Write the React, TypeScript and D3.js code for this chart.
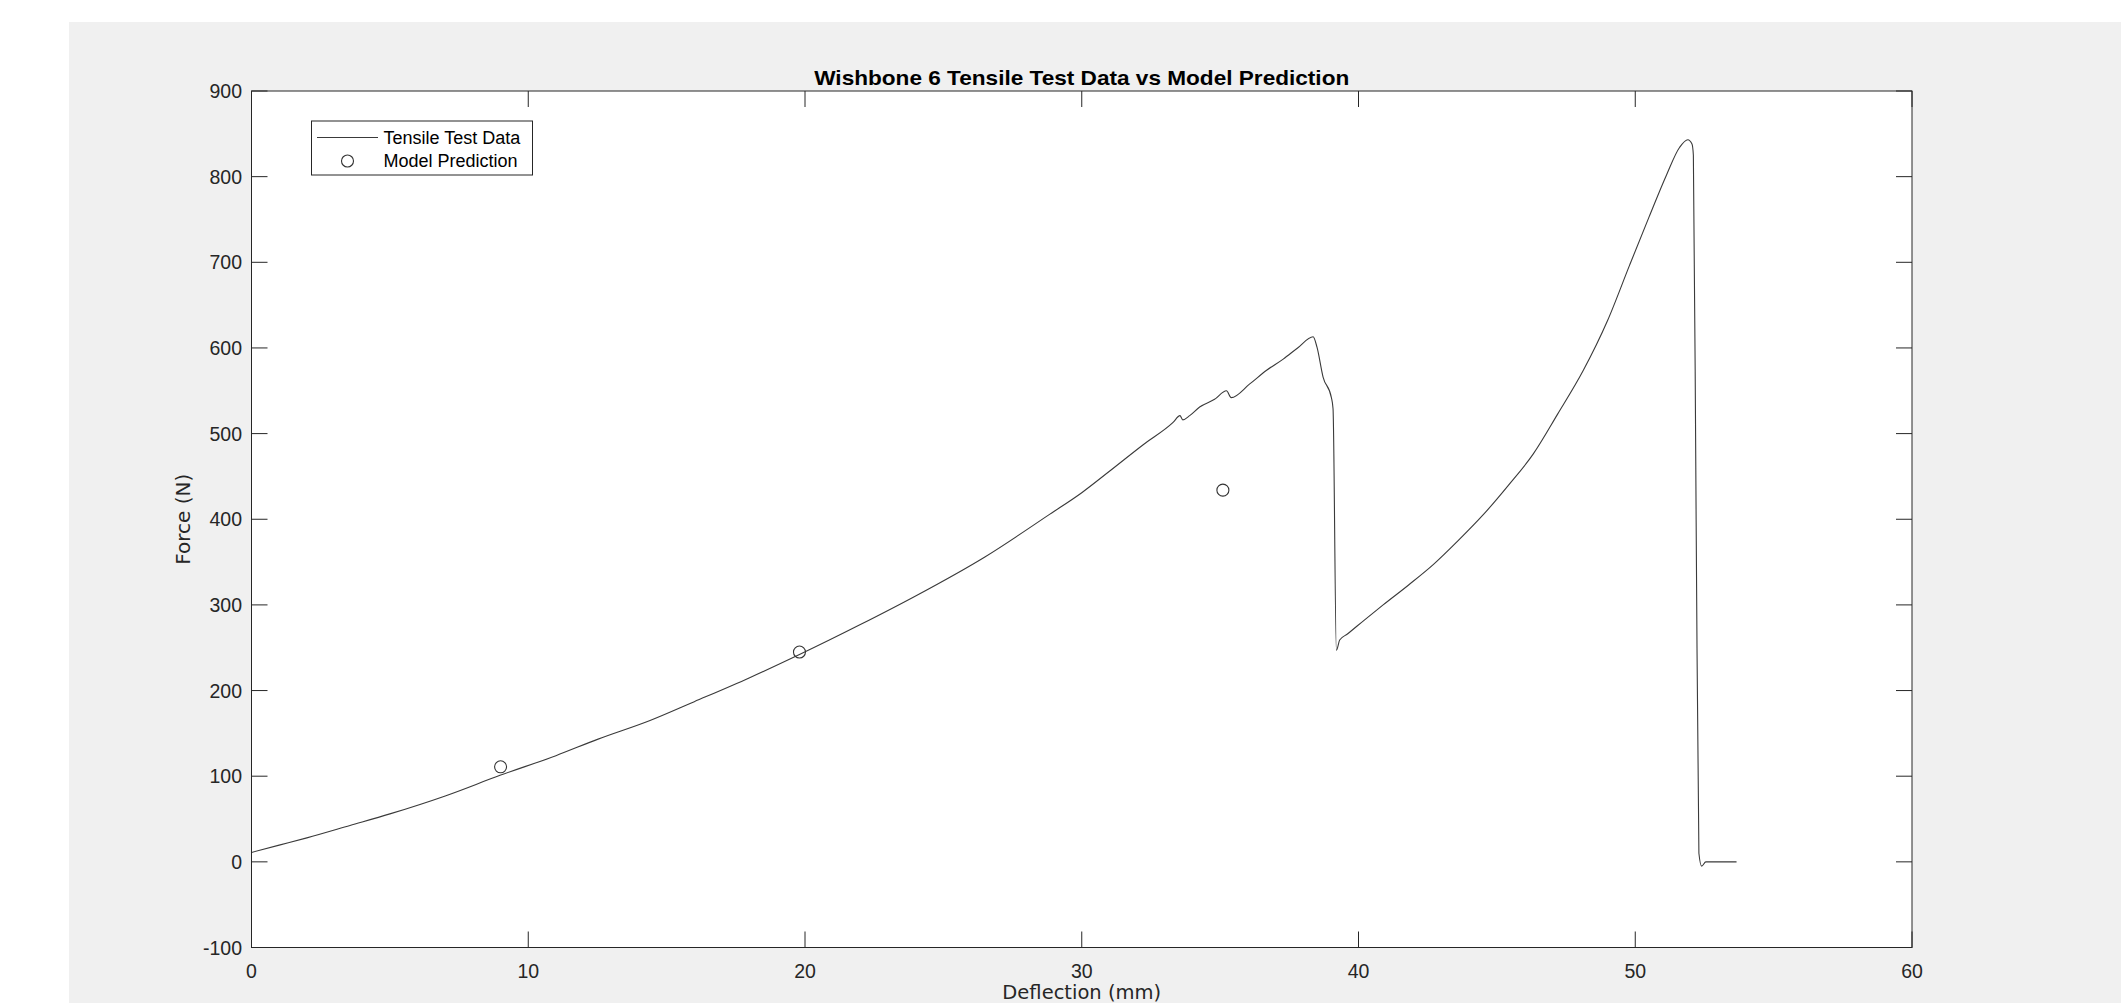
import { useEffect, useRef } from "react";
import * as d3 from "d3";

// tensile test trace: deflection (mm) and force (N)
const testDeflection = [
  0, 1, 2, 3.56, 5, 7, 8.98, 11, 12.5, 14.4, 16, 18, 19.8, 22, 24.03, 26.5,
  28.85, 30, 31, 32.22, 33.3, 33.55, 33.65, 33.9, 34.26, 34.8, 35.23, 35.4,
  36.07, 36.68, 37.28, 37.8, 38.36, 38.5, 38.72, 39.02, 39.08, 39.2, 39.32,
  39.6, 40.2, 40.89, 41.8, 42.7, 43.6, 44.5, 45.4, 46.31, 47.2, 48.11, 49.0,
  49.8, 50.5, 51.13, 51.6, 51.9, 52.05, 52.1, 52.2, 52.3, 52.4, 52.55, 53.0,
  53.66,
];
const testForce = [
  11, 19.5, 28, 42.5, 56, 77, 101, 124, 143, 165, 187, 215, 242, 277, 311, 356,
  406, 431, 456, 487, 513, 521, 516, 521, 531, 540, 550, 542,
  558, 574, 587, 600, 613, 601, 566, 542, 529, 247, 259,
  266, 282, 300, 323, 347, 375, 405, 439, 476, 523, 573, 632,
  697, 753, 802, 834, 843, 838, 825, 400, 10, -5, 0, 0,
  0,
];

// model prediction points
const modelDeflection = [9, 19.8, 35.1];
const modelForce = [111, 245, 434];

const xTicks = [0, 10, 20, 30, 40, 50, 60];
const yTicks = [-100, 0, 100, 200, 300, 400, 500, 600, 700, 800, 900];

const W = 2121;
const H = 1003;
const plot = { left: 251.5, right: 1912, top: 91, bottom: 947.5 };
const axisColor = "#262626";
const font = "'Liberation Sans', Arial, Helvetica, sans-serif";
const labelFont = "'DejaVu Sans', Verdana, sans-serif";

export default function App() {
  const svgRef = useRef(null);

  useEffect(() => {
    const svg = d3.select(svgRef.current);
    svg.selectAll("*").remove();

    const x = d3.scaleLinear().domain([0, 60]).range([plot.left, plot.right]);
    const y = d3.scaleLinear().domain([-100, 900]).range([plot.bottom, plot.top]);

    // figure background
    svg.append("rect").attr("x", 0).attr("y", 0).attr("width", W).attr("height", H).attr("fill", "#fff");
    svg.append("rect").attr("x", 69).attr("y", 22).attr("width", W - 69).attr("height", H - 22).attr("fill", "#f0f0f0");

    // axes area
    svg
      .append("rect")
      .attr("x", plot.left)
      .attr("y", plot.top)
      .attr("width", plot.right - plot.left)
      .attr("height", plot.bottom - plot.top)
      .attr("fill", "#fff");

    const data = testDeflection.map((d, i) => [d, testForce[i]]);
    const line = d3
      .line()
      .curve(d3.curveMonotoneX)
      .x((d) => x(d[0]))
      .y((d) => y(d[1]));

    svg
      .append("path")
      .datum(data)
      .attr("d", line)
      .attr("fill", "none")
      .attr("stroke", "#3a3a3a")
      .attr("stroke-width", 1.1)
      .attr("stroke-linejoin", "round");

    svg
      .selectAll("circle.model")
      .data(modelDeflection)
      .enter()
      .append("circle")
      .attr("class", "model")
      .attr("cx", (d) => x(d))
      .attr("cy", (d, i) => y(modelForce[i]))
      .attr("r", 6)
      .attr("fill", "none")
      .attr("stroke", "#333")
      .attr("stroke-width", 1.1);

    const tickLen = 16;
    const ax = svg.append("g").attr("stroke", axisColor).attr("stroke-width", 1);

    // ticks inside the box, on all four sides
    xTicks.forEach((t) => {
      ax.append("line").attr("x1", x(t)).attr("x2", x(t)).attr("y1", plot.bottom).attr("y2", plot.bottom - tickLen);
      ax.append("line").attr("x1", x(t)).attr("x2", x(t)).attr("y1", plot.top).attr("y2", plot.top + tickLen);
    });
    yTicks.forEach((t) => {
      ax.append("line").attr("x1", plot.left).attr("x2", plot.left + tickLen).attr("y1", y(t)).attr("y2", y(t));
      ax.append("line").attr("x1", plot.right).attr("x2", plot.right - tickLen).attr("y1", y(t)).attr("y2", y(t));
    });

    ax.append("rect")
      .attr("x", plot.left)
      .attr("y", plot.top)
      .attr("width", plot.right - plot.left)
      .attr("height", plot.bottom - plot.top)
      .attr("fill", "none");

    // tick labels
    svg
      .selectAll("text.xt")
      .data(xTicks)
      .enter()
      .append("text")
      .attr("class", "xt")
      .attr("x", (d) => x(d))
      .attr("y", 978)
      .attr("text-anchor", "middle")
      .attr("font-family", font)
      .attr("font-size", 19.5)
      .attr("fill", axisColor)
      .text((d) => d);

    svg
      .selectAll("text.yt")
      .data(yTicks)
      .enter()
      .append("text")
      .attr("class", "yt")
      .attr("x", 242)
      .attr("y", (d) => y(d))
      .attr("dy", "0.36em")
      .attr("text-anchor", "end")
      .attr("font-family", font)
      .attr("font-size", 19.5)
      .attr("fill", axisColor)
      .text((d) => d);

    // title + axis labels
    svg
      .append("text")
      .attr("x", (plot.left + plot.right) / 2)
      .attr("y", 85)
      .attr("text-anchor", "middle")
      .attr("font-family", font)
      .attr("font-weight", "bold")
      .attr("font-size", 21)
      .attr("textLength", 535)
      .attr("lengthAdjust", "spacingAndGlyphs")
      .attr("fill", "#000")
      .text("Wishbone 6 Tensile Test Data vs Model Prediction");

    svg
      .append("text")
      .attr("x", (plot.left + plot.right) / 2)
      .attr("y", 999)
      .attr("text-anchor", "middle")
      .attr("font-family", labelFont)
      .attr("font-size", 19.5)
      .attr("fill", axisColor)
      .text("Deflection (mm)");

    svg
      .append("text")
      .attr("transform", `translate(190, ${(plot.top + plot.bottom) / 2}) rotate(-90)`)
      .attr("text-anchor", "middle")
      .attr("font-family", labelFont)
      .attr("font-size", 20)
      .attr("fill", axisColor)
      .text("Force (N)");

    // legend
    const lg = svg.append("g");
    lg.append("rect")
      .attr("x", 311.5)
      .attr("y", 121)
      .attr("width", 221)
      .attr("height", 54)
      .attr("fill", "#fff")
      .attr("stroke", axisColor)
      .attr("stroke-width", 1);
    lg.append("line")
      .attr("x1", 317)
      .attr("x2", 378)
      .attr("y1", 137.5)
      .attr("y2", 137.5)
      .attr("stroke", "#3a3a3a")
      .attr("stroke-width", 1.1);
    lg.append("circle")
      .attr("cx", 347.5)
      .attr("cy", 161)
      .attr("r", 6)
      .attr("fill", "none")
      .attr("stroke", "#333")
      .attr("stroke-width", 1.1);
    const labels = ["Tensile Test Data", "Model Prediction"];
    lg.selectAll("text")
      .data(labels)
      .enter()
      .append("text")
      .attr("x", 383.5)
      .attr("y", (d, i) => (i === 0 ? 137.5 : 161))
      .attr("dy", "0.36em")
      .attr("font-family", font)
      .attr("font-size", 18)
      .attr("fill", "#000")
      .text((d) => d);
  }, []);

  return (
    <svg
      ref={svgRef}
      width={W}
      height={H}
      style={{ position: "absolute", left: 0, top: 0, display: "block" }}
    ></svg>
  );
}
